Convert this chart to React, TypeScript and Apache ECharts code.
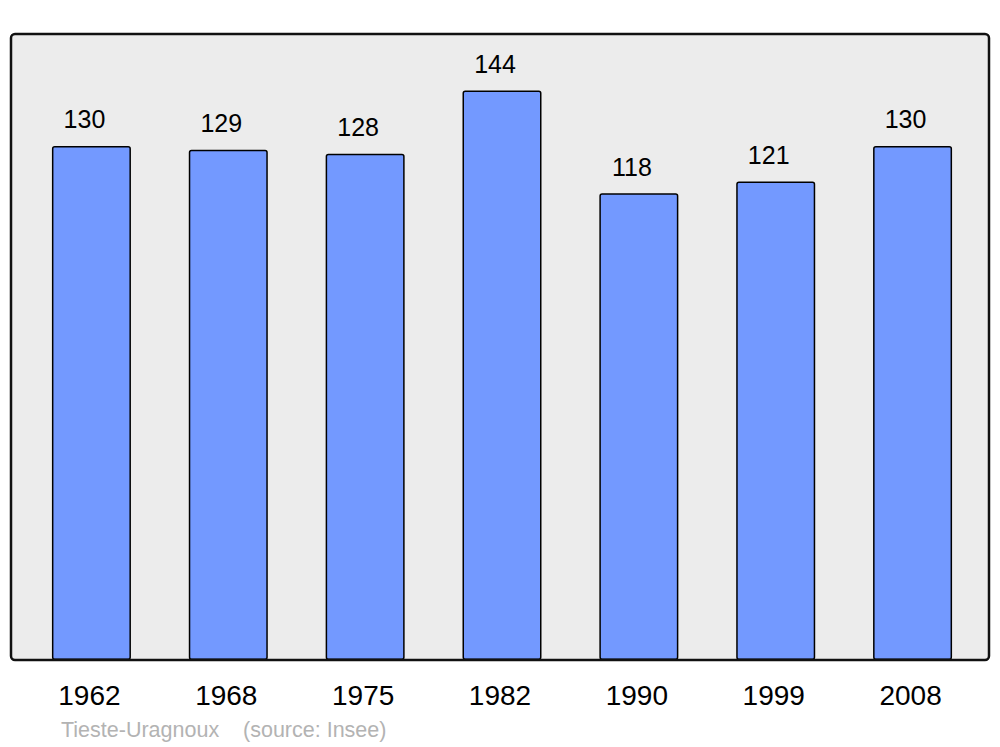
import React, { useEffect, useRef } from "react";
import * as echarts from "echarts";

const years = ["1962", "1968", "1975", "1982", "1990", "1999", "2008"];
const population = [130, 129, 128, 144, 118, 121, 130];
const footerName = "Tieste-Uragnoux";
const footerSource = "(source: Insee)";

export default function App() {
  const ref = useRef<HTMLDivElement>(null);
  useEffect(() => {
    if (!ref.current) return;
    const chart = echarts.init(ref.current, undefined, { renderer: "svg" });
    chart.setOption({
      animation: false,
      backgroundColor: "#ffffff",
      textStyle: { fontFamily: "Liberation Sans, Arial, sans-serif" },
      grid: { left: 23, top: 34, width: 958, height: 626 },
      xAxis: {
        type: "category",
        data: years,
        axisLine: { show: false },
        axisTick: { show: false },
        axisLabel: {
          fontSize: 28,
          color: "#000",
          margin: 21,
          padding: [0, 4, 0, 0],
          fontFamily: "Liberation Sans",
        },
      },
      yAxis: {
        type: "value",
        min: 0,
        max: 158.3,
        show: false,
        splitLine: { show: false },
      },
      graphic: [
        {
          type: "rect",
          z: 0,
          shape: { x: 11, y: 34, width: 978, height: 626, r: 4 },
          style: { fill: "#ececec", stroke: "none" },
        },
        {
          type: "rect",
          z: 100,
          shape: { x: 11, y: 34, width: 978, height: 626, r: 4 },
          style: { fill: "none", stroke: "#111", lineWidth: 2.5 },
        },
        {
          type: "text",
          x: 61,
          y: 730,
          style: {
            text: footerName + "    " + footerSource,
            fill: "#b3b3b3",
            font: "21.5px Liberation Sans",
            verticalAlign: "middle",
          },
        },
      ],
      series: [
        {
          type: "bar",
          z: 2,
          data: population,
          barWidth: 79,
          itemStyle: {
            color: "#7399ff",
            borderColor: "#000",
            borderWidth: 1.5,
            borderRadius: 2,
          },
          label: {
            show: true,
            position: "top",
            distance: 14,
            offset: [-7, 0],
            color: "#000",
            fontSize: 25,
            fontFamily: "Liberation Sans",
          },
        },
      ],
    });
    return () => chart.dispose();
  }, []);
  return <div ref={ref} style={{ width: 1000, height: 747, position: "absolute", left: 0, top: 0 }} />;
}
